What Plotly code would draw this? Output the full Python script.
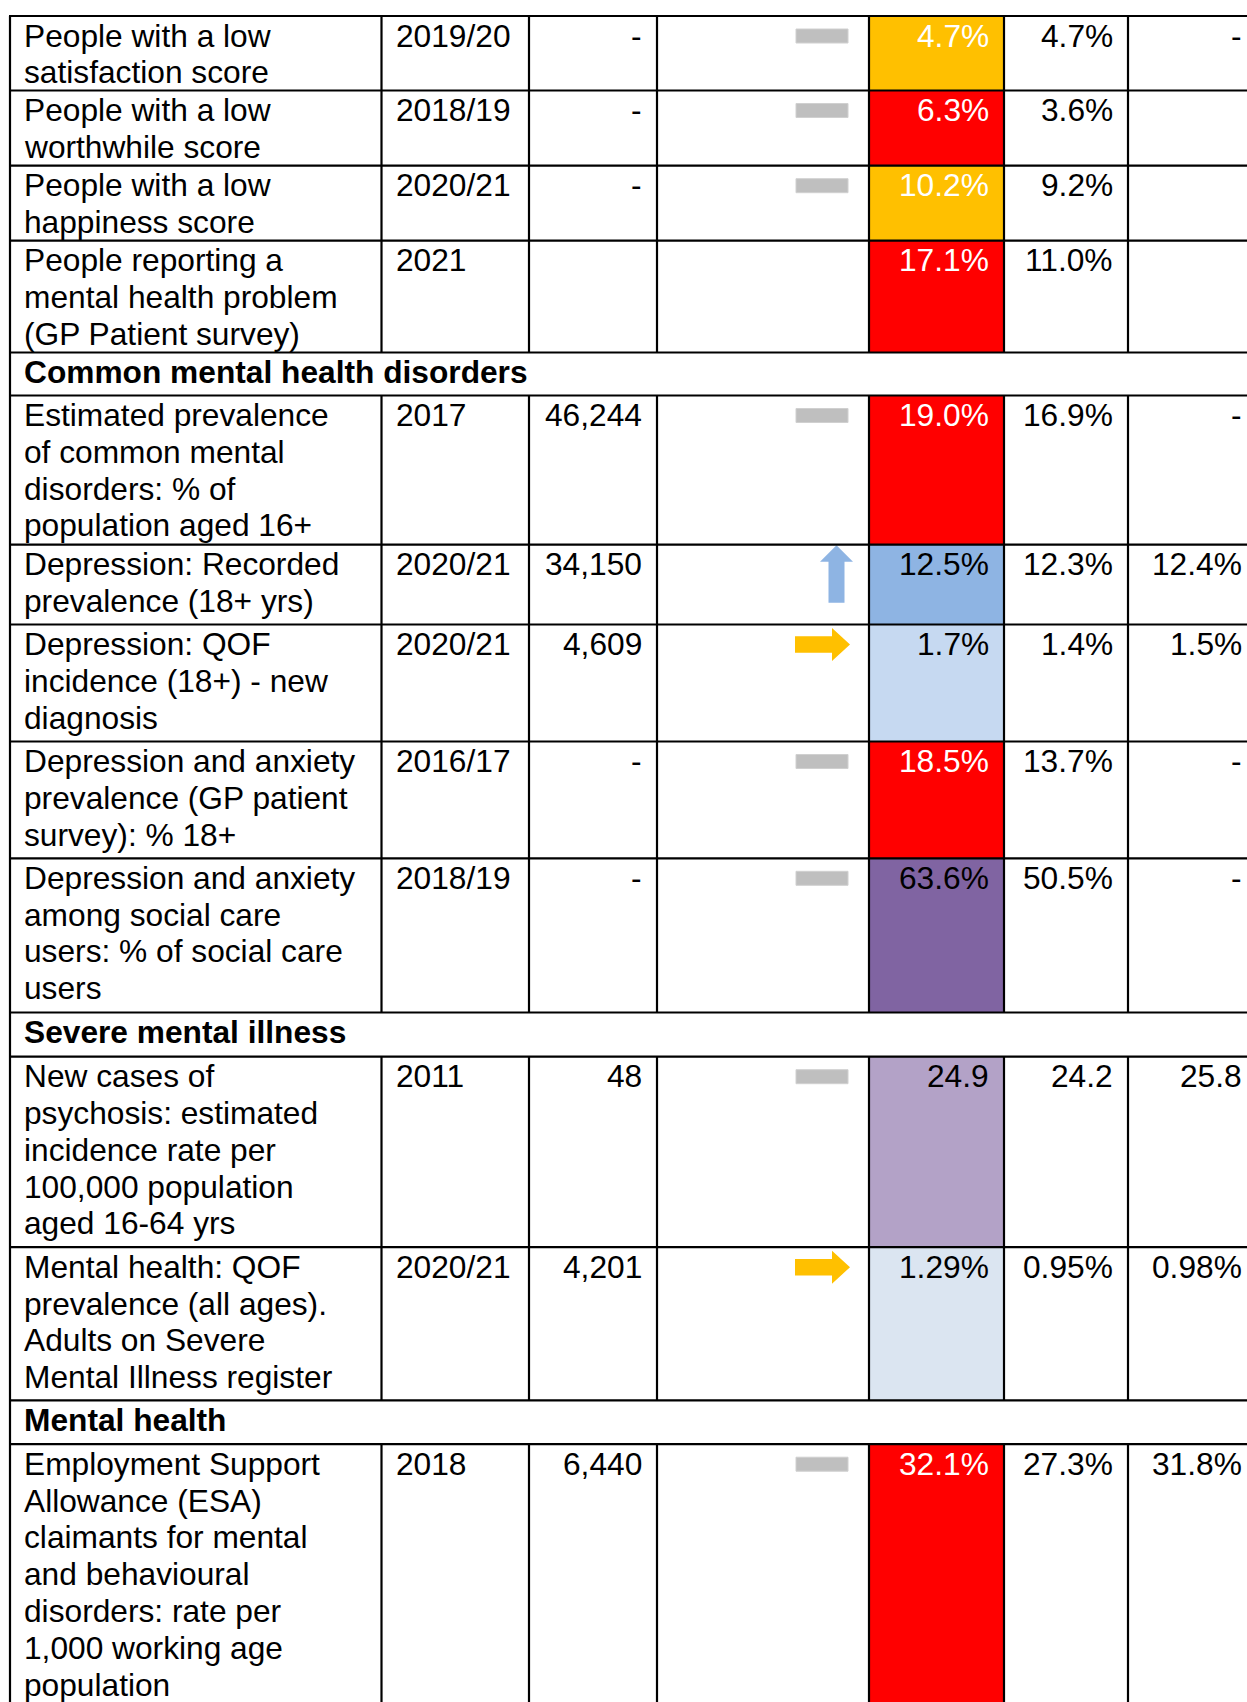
import plotly.graph_objects as go

# ---------------- data ----------------
sections = [None, None, None, None,
            "Common mental health disorders", None, None, None, None, None,
            "Severe mental illness", None, None,
            "Mental health", None]

indicators = [
    "People with a low<br>satisfaction score",
    "People with a low<br>worthwhile score",
    "People with a low<br>happiness score",
    "People reporting a<br>mental health problem<br>(GP Patient survey)",
    None,
    "Estimated prevalence<br>of common mental<br>disorders: % of<br>population aged 16+",
    "Depression: Recorded<br>prevalence (18+ yrs)",
    "Depression: QOF<br>incidence (18+) - new<br>diagnosis",
    "Depression and anxiety<br>prevalence (GP patient<br>survey): % 18+",
    "Depression and anxiety<br>among social care<br>users: % of social care<br>users",
    None,
    "New cases of<br>psychosis: estimated<br>incidence rate per<br>100,000 population<br>aged 16-64 yrs",
    "Mental health: QOF<br>prevalence (all ages).<br>Adults on Severe<br>Mental Illness register",
    None,
    "Employment Support<br>Allowance (ESA)<br>claimants for mental<br>and behavioural<br>disorders: rate per<br>1,000 working age<br>population",
]
periods = ["2019/20", "2018/19", "2020/21", "2021", None, "2017", "2020/21", "2020/21",
           "2016/17", "2018/19", None, "2011", "2020/21", None, "2018"]
counts = ["-", "-", "-", "", None, "46,244", "34,150", "4,609", "-", "-", None,
          "48", "4,201", None, "6,440"]
trends = ["same", "same", "same", "", None, "same", "up", "right", "same", "same", None,
          "same", "right", None, "same"]
values = ["4.7%", "6.3%", "10.2%", "17.1%", None, "19.0%", "12.5%", "1.7%", "18.5%",
          "63.6%", None, "24.9", "1.29%", None, "32.1%"]
value_fill = ["#FFC000", "#FF0000", "#FFC000", "#FF0000", None, "#FF0000", "#8EB4E3",
              "#C6D9F1", "#FF0000", "#8064A2", None, "#B3A2C7", "#DBE5F1", None, "#FF0000"]
value_font = ["white", "white", "white", "white", None, "white", "black", "black",
              "white", "black", None, "black", "black", None, "white"]
comparator1 = ["4.7%", "3.6%", "9.2%", "11.0%", None, "16.9%", "12.3%", "1.4%", "13.7%",
               "50.5%", None, "24.2", "0.95%", None, "27.3%"]
comparator2 = ["-", "", "", "", None, "-", "12.4%", "1.5%", "-", "-", None,
               "25.8", "0.98%", None, "31.8%"]

# ---------------- layout constants ----------------
PAGE_W, PAGE_H = 1247, 1702
row_edges = [16, 90.5, 165.7, 240.7, 352.5, 395.5, 544.7, 624.5, 741.5, 858.3,
             1012.5, 1056.7, 1247.2, 1400.3, 1444.2, 1712]
col_edges = [10, 381.5, 529, 657, 869, 1004, 1128, 1262]
FS = 31.7
FONT = "Liberation Sans, Arial, sans-serif"
LINE_H = 36.8
BASE0 = 30.5
PAD_L = 13
PAD_R = 14
MID = 0.3465 * FS

shapes = []
annotations = []


def add_text(text, x, row_top, anchor, color="black", bold=False):
    for i, line in enumerate(text.split("<br>")):
        y = row_top + BASE0 + i * LINE_H - MID
        annotations.append(dict(
            x=x, y=y, xref="x", yref="y", text=line, showarrow=False,
            xanchor=anchor, yanchor="middle", borderpad=0,
            font=dict(family=FONT, size=FS, color=color,
                      weight="bold" if bold else "normal")))


GREY = "#BFBFBF"
BLUE_ARROW = "#8EB4E3"
AMBER = "#FFC000"

for r in range(len(indicators)):
    top, bot = row_edges[r], row_edges[r + 1]
    if sections[r] is not None:
        add_text(sections[r], col_edges[0] + PAD_L, top, "left", bold=True)
        continue
    shapes.append(dict(type="rect", xref="x", yref="y", x0=col_edges[4], x1=col_edges[5],
                       y0=top, y1=bot, fillcolor=value_fill[r], line=dict(width=0),
                       layer="below"))
    add_text(indicators[r], col_edges[0] + PAD_L, top, "left")
    add_text(periods[r], col_edges[1] + PAD_L, top, "left")
    if counts[r]:
        add_text(counts[r], col_edges[3] - PAD_R, top, "right")
    add_text(values[r], col_edges[5] - PAD_R, top, "right", color=value_font[r])
    if comparator1[r]:
        add_text(comparator1[r], col_edges[6] - PAD_R, top, "right")
    if comparator2[r]:
        add_text(comparator2[r], col_edges[7] - 19, top, "right")
    xr = col_edges[4]
    t = trends[r]
    if t == "same":
        shapes.append(dict(type="rect", xref="x", yref="y", x0=xr - 73, x1=xr - 21,
                           y0=top + 13, y1=top + 27, fillcolor=GREY,
                           line=dict(color="#D0D0D0", width=1)))
    elif t == "up":
        cx = xr - 32.5
        path = (f"M {cx-8},{top+58} L {cx+8},{top+58} L {cx+8},{top+17} "
                f"L {cx+16.5},{top+17} L {cx},{top+0.5} L {cx-16.5},{top+17} "
                f"L {cx-8},{top+17} Z")
        shapes.append(dict(type="path", xref="x", yref="y", path=path,
                           fillcolor=BLUE_ARROW, line=dict(width=0)))
    elif t == "right":
        x0, x1, xh = xr - 74, xr - 19, xr - 37
        yc = top + 20
        path = (f"M {x0},{yc-8.3} L {xh},{yc-8.3} L {xh},{yc-16.5} L {x1},{yc} "
                f"L {xh},{yc+16.5} L {xh},{yc+8.3} L {x0},{yc+8.3} Z")
        shapes.append(dict(type="path", xref="x", yref="y", path=path,
                           fillcolor=AMBER, line=dict(width=0)))

LW = 2.2
for e in row_edges[:-1]:
    shapes.append(dict(type="line", xref="x", yref="y", x0=col_edges[0] - 1, x1=col_edges[-1],
                       y0=e, y1=e, line=dict(color="black", width=LW)))
shapes.append(dict(type="line", xref="x", yref="y", x0=col_edges[0], x1=col_edges[0],
                   y0=row_edges[0], y1=row_edges[-1], line=dict(color="black", width=LW)))
for r in range(len(indicators)):
    if sections[r] is not None:
        continue
    for c in col_edges[1:-1]:
        shapes.append(dict(type="line", xref="x", yref="y", x0=c, x1=c,
                           y0=row_edges[r], y1=row_edges[r + 1],
                           line=dict(color="black", width=LW)))

fig = go.Figure(go.Scatter(x=[], y=[]))
fig.update_layout(
    width=PAGE_W, height=PAGE_H, margin=dict(l=0, r=0, t=0, b=0, pad=0),
    paper_bgcolor="white", plot_bgcolor="white", showlegend=False,
    xaxis=dict(range=[0, PAGE_W], visible=False, fixedrange=True),
    yaxis=dict(range=[PAGE_H, 0], visible=False, fixedrange=True),
    shapes=shapes, annotations=annotations,
)
fig.write_html(
    "out.html",
    config={"displayModeBar": False, "responsive": False},
    post_script="document.body.style.margin='0px';document.body.style.overflow='hidden';",
)
